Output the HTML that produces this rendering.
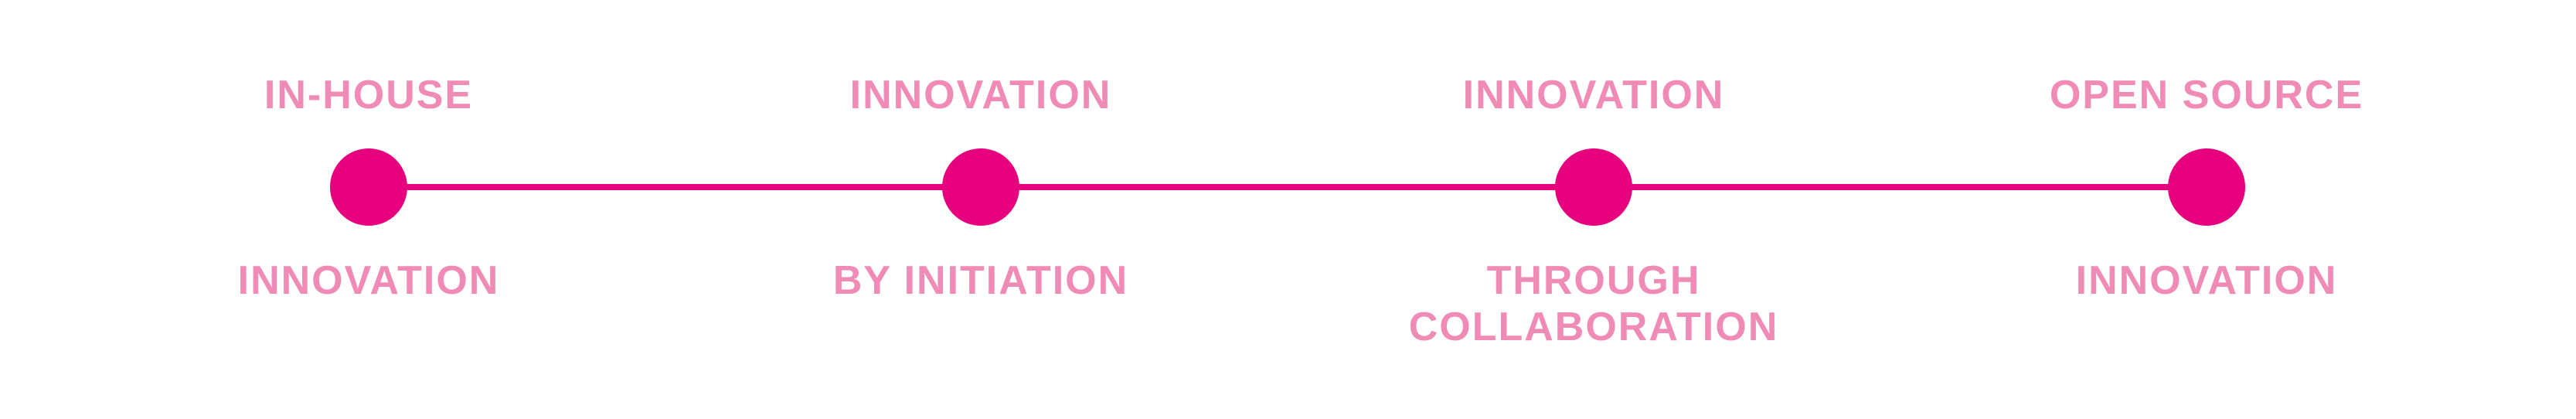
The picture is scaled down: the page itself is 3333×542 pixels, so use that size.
<!DOCTYPE html>
<html><head><meta charset="utf-8"><style>
html,body{margin:0;padding:0;background:#fff}
body{width:3333px;height:542px;position:relative;overflow:hidden;font-family:"Liberation Sans",Arial,sans-serif}
.l{position:absolute;width:700px;text-align:center;font-weight:bold;font-size:52px;line-height:60px;letter-spacing:2px;color:#f08bb5;white-space:nowrap}
.c{position:absolute;width:100px;height:100px;border-radius:50%;background:#e6007e;top:192px}
.line{position:absolute;left:477px;width:2378px;top:238px;height:8px;background:#e6007e}
</style></head><body>
<div class="line"></div>
<div class="c" style="left:427px"></div>
<div class="c" style="left:1219px"></div>
<div class="c" style="left:2012px"></div>
<div class="c" style="left:2805px"></div>
<div class="l" style="left:127px;top:93px">IN-HOUSE</div>
<div class="l" style="left:127px;top:333px">INNOVATION</div>
<div class="l" style="left:919px;top:93px">INNOVATION</div>
<div class="l" style="left:919px;top:333px">BY INITIATION</div>
<div class="l" style="left:1712px;top:93px">INNOVATION</div>
<div class="l" style="left:1712px;top:333px">THROUGH<br>COLLABORATION</div>
<div class="l" style="left:2505px;top:93px">OPEN SOURCE</div>
<div class="l" style="left:2505px;top:333px">INNOVATION</div>
</body></html>
